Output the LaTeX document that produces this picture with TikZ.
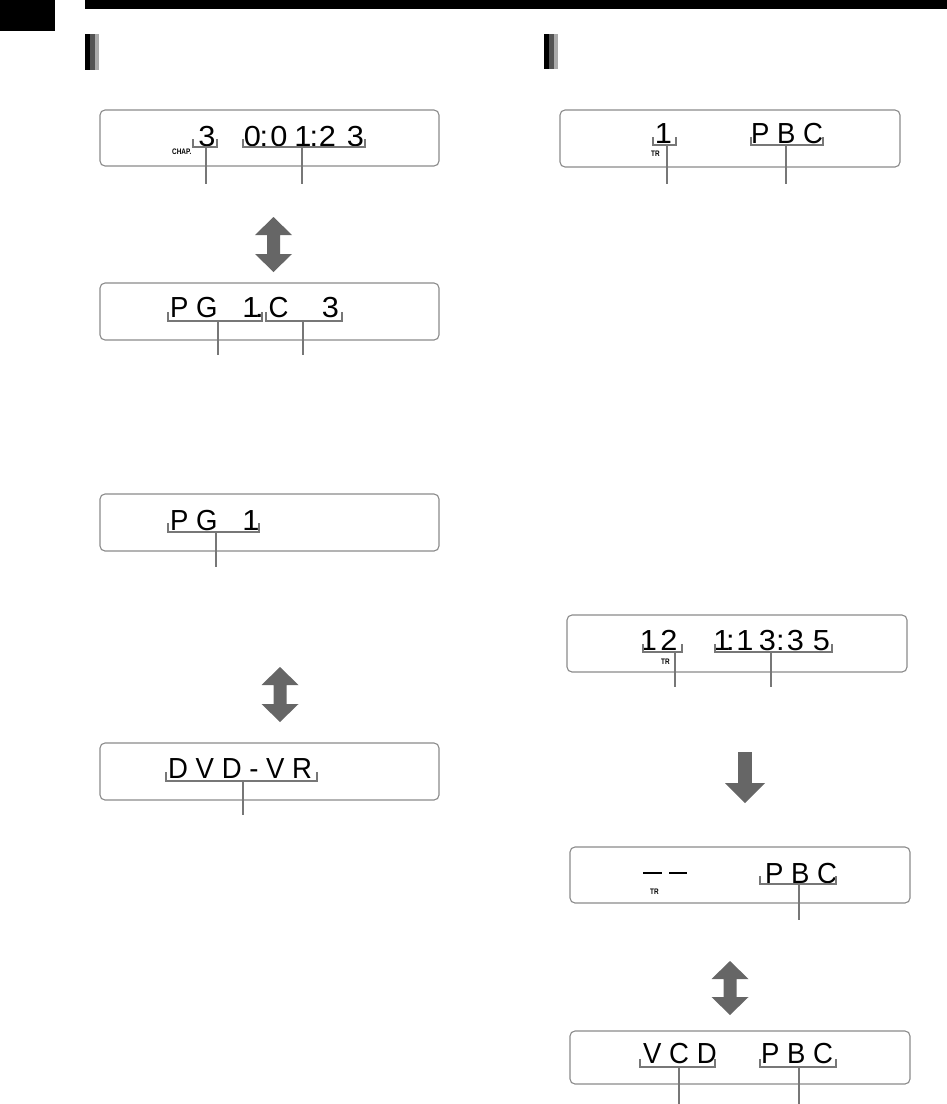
\documentclass[tikz,border=0pt]{standalone}
\usepackage{fontspec}
\newfontfamily\lcdfont[FakeStretch=0.95]{Liberation Sans}
\newfontfamily\digfont[FakeStretch=1.06]{Liberation Sans}
\newfontfamily\labfont[FakeStretch=0.8]{Liberation Sans}
\definecolor{arrowgray}{HTML}{666666}
\definecolor{brkgray}{HTML}{777777}
\definecolor{boxgray}{HTML}{8A8A8A}
\tikzset{
  lcdbox/.style={draw=boxgray, line width=1.1pt, rounded corners=5pt},
  lcdtext/.style={inner sep=0pt, font=\lcdfont\fontsize{29}{29}\selectfont},
  digtext/.style={inner sep=0pt, anchor=base, font=\digfont\fontsize{29}{29}\selectfont},
  smalllab/.style={inner sep=0pt, font=\labfont\bfseries\fontsize{8}{8}\selectfont},
  brkline/.style={draw=brkgray, line width=1.8pt},
  bigarrow/.style={fill=arrowgray, draw=none}
}
% bracket: #1 name, #2 x1, #3 x2, #4 y, #5 tick top, #6 xm, #7 yend
\newcommand\lcdbracket[7]{%
  \coordinate (#1-m) at (#6,#4);
  \coordinate (#1-e) at (#6,#7);
  \draw[brkline] (#2,#5) -- (#2,#4) -- (#3,#4) -- (#3,#5);
  \draw[brkline] (#1-m) -- (#1-e);
}
% single LCD character: #1 name, #2 x centre, #3 baseline, #4 char
\newcommand\lcdch[4]{\node[digtext] (#1) at (#2,#3) {#4};}
% double arrow: #1 cx, #2 top tip, #3 bottom tip
\newcommand\dblarrow[3]{%
  \fill[bigarrow] (#1,#2) -- (#1+18.5,#2+18) -- (#1+6.5,#2+18) -- (#1+6.5,#3-18)
    -- (#1+18.5,#3-18) -- (#1,#3) -- (#1-18.5,#3-18) -- (#1-6.5,#3-18)
    -- (#1-6.5,#2+18) -- (#1-18.5,#2+18) -- cycle;
}
\begin{document}
\begin{tikzpicture}[x=1pt,y=-1pt]
\useasboundingbox (0,0) rectangle (947,1104);
% header
\fill[black] (0,0) rectangle (55,31);
\fill[black] (85,0) rectangle (947,9);
\fill[black] (85,34) rectangle (90,70);
\fill[black!67] (90,34) rectangle (94.5,70);
\fill[black!33] (95,34) rectangle (99,70);
\fill[black] (544,34) rectangle (549,69);
\fill[black!67] (549,34) rectangle (553.5,69);
\fill[black!33] (554,34) rectangle (558,69);

% ===== Left column =====
% box L1
\draw[lcdbox] (100,110) rectangle (439,166);
\lcdch{l1a}{207}{146}{3}
\lcdch{l1b1}{252.5}{146}{0}
\lcdch{l1b2}{264}{146}{:}
\lcdch{l1b3}{279}{146}{0}
\lcdch{l1b4}{303}{146}{1}
\lcdch{l1b5}{314}{146}{:}
\lcdch{l1b6}{327.5}{146}{2}
\lcdch{l1b7}{355.5}{146}{3}
\node[smalllab, anchor=west] (chap) at (172,152) {CHAP.};
\lcdbracket{bl1a}{193}{217}{147}{139}{206}{184}
\lcdbracket{bl1b}{243}{365}{147}{139}{302}{184}

\dblarrow{273.5}{217}{272}

% box L2
\draw[lcdbox] (100,283) rectangle (439,340);
\node[lcdtext, anchor=base west] (l2a) at (170,317) {P G};
\lcdch{l2b}{251}{317}{1}
\lcdch{l2c}{259.5}{317}{.}
\node[lcdtext, anchor=base west] (l2d) at (268.5,317) {C};
\lcdch{l2e}{330.5}{317}{3}
\lcdbracket{bl2a}{168}{262}{321}{312}{218}{355}
\lcdbracket{bl2b}{266}{342}{321}{312}{303}{355}

% box L3
\draw[lcdbox] (100,494) rectangle (439,551);
\node[lcdtext, anchor=base west] (l3a) at (170,530) {P G};
\lcdch{l3b}{251}{530}{1}
\lcdbracket{bl3}{168}{259}{532}{523}{216}{567}

\dblarrow{280}{667}{722}

% box L4
\draw[lcdbox] (100,743) rectangle (439,800);
\node[lcdtext, anchor=base west] (l4) at (168,778) {D V D - V R};
\lcdbracket{bl4}{166}{317}{781}{772}{243}{815}

% ===== Right column =====
% box R1
\draw[lcdbox] (560,110) rectangle (900,167);
\lcdch{r1a}{663.5}{143}{1}
\node[lcdtext, anchor=base west] (r1b) at (751,143) {P B C};
\node[smalllab, anchor=west] (tr1) at (651,153.5) {TR};
\lcdbracket{br1a}{653}{676}{145}{137}{667}{184}
\lcdbracket{br1b}{751}{823}{145}{137}{786}{184}

% box R2
\draw[lcdbox] (567,615) rectangle (907,672);
\lcdch{r2a1}{648.5}{650}{1}
\lcdch{r2a2}{669}{650}{2}
\lcdch{r2b1}{722}{650}{1}
\lcdch{r2b2}{730.5}{650}{:}
\lcdch{r2b3}{745}{650}{1}
\lcdch{r2b4}{767.5}{650}{3}
\lcdch{r2b5}{780.5}{650}{:}
\lcdch{r2b6}{795.5}{650}{3}
\lcdch{r2b7}{821.5}{650}{5}
\node[smalllab, anchor=west] (tr2) at (661,661.5) {TR};
\lcdbracket{br2a}{643}{682}{652}{644}{675}{687}
\lcdbracket{br2b}{715}{832}{652}{644}{771}{687}

% down arrow
\fill[bigarrow] (738,752) rectangle (752,783);
\fill[bigarrow] (725,783) -- (765,783) -- (745,803) -- cycle;

% box R3
\draw[lcdbox] (570,847) rectangle (910,903);
\draw[black, line width=2.6pt] (643,873) -- (662,873);
\draw[black, line width=2.6pt] (669,873) -- (687,873);
\node[smalllab, anchor=west] (tr3) at (650,892) {TR};
\node[lcdtext, anchor=base west] (r3) at (765,883) {P B C};
\lcdbracket{br3}{760}{836}{884}{876}{799}{920}

\dblarrow{730}{961}{1015}

% box R4
\draw[lcdbox] (570,1031) rectangle (910,1084);
\node[lcdtext, anchor=base west] (r4a) at (643,1063) {V C D};
\node[lcdtext, anchor=base west] (r4b) at (761,1063) {P B C};
\lcdbracket{br4a}{640}{715}{1067}{1059}{679}{1104}
\lcdbracket{br4b}{760}{836}{1067}{1059}{799}{1104}
\end{tikzpicture}
\end{document}
